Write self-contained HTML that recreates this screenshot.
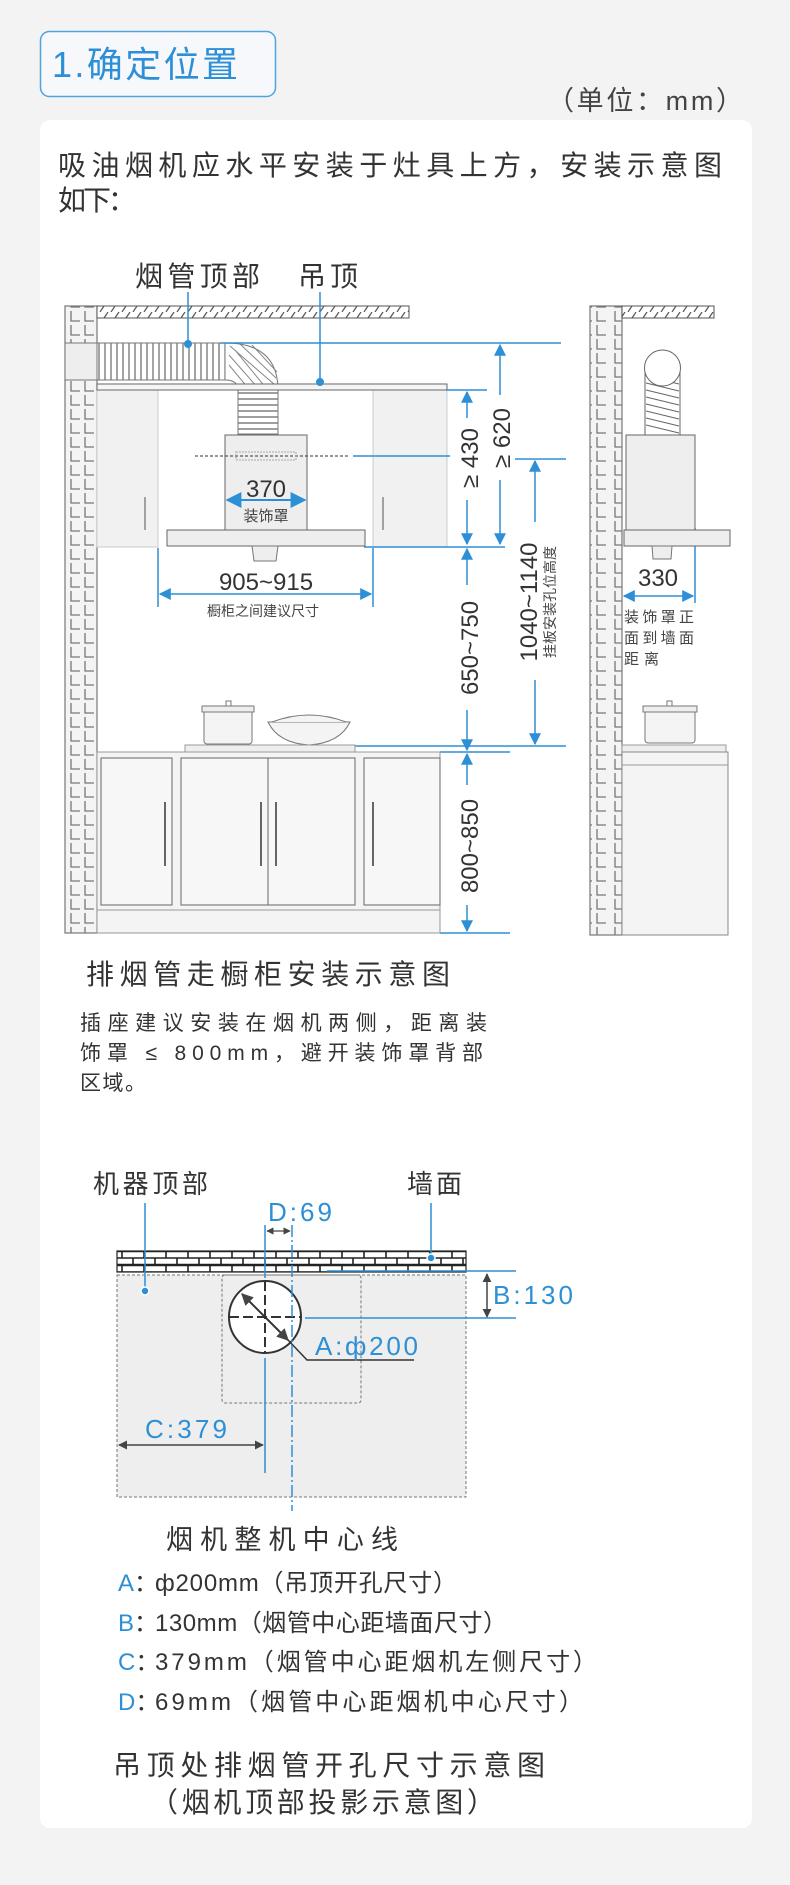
<!DOCTYPE html>
<html><head><meta charset="utf-8"><style>
html,body{margin:0;padding:0;background:#f3f3f4;}
svg{display:block;}
text{font-family:"Liberation Sans","Noto Sans CJK SC",sans-serif;}
</style></head><body>
<svg width="790" height="1885" viewBox="0 0 790 1885" xmlns="http://www.w3.org/2000/svg">
<defs>
<pattern id="brick" x="65" y="0" width="32" height="28" patternUnits="userSpaceOnUse">
<rect width="32" height="28" fill="#f4f4f4"/>
<path d="M6 3 V13 H15 M20 3 V13 H29 M6 17 V27 H15 M20 17 V27 H29" stroke="#777" stroke-width="1.3" fill="none"/>
</pattern>
<pattern id="hatch" width="11" height="12" patternUnits="userSpaceOnUse">
<rect width="11" height="12" fill="#fff"/><path d="M1 12 L9 0" stroke="#555" stroke-width="1.2"/>
</pattern>
<pattern id="rib" width="6" height="40" patternUnits="userSpaceOnUse">
<rect width="6" height="40" fill="#fff"/><path d="M3 0 V40" stroke="#666" stroke-width="1.2"/>
</pattern>
<pattern id="ribh" width="40" height="6" patternUnits="userSpaceOnUse">
<rect width="40" height="6" fill="#fff"/><path d="M0 3 H40" stroke="#666" stroke-width="1.2"/>
</pattern>
<pattern id="wallb" width="22" height="14" patternUnits="userSpaceOnUse" x="117" y="1251">
<rect width="22" height="14" fill="#fff"/><path d="M0 0.5H22 M0 7H22 M0 13.5H22 M5 0V7 M16 7V14" stroke="#222" stroke-width="1.6"/>
</pattern>
<marker id="ab" viewBox="0 0 10 10" refX="9" refY="5" markerWidth="8" markerHeight="8" orient="auto-start-reverse"><path d="M0 0L10 5L0 10z" fill="#2d8fd5"/></marker>
<marker id="ak" viewBox="0 0 10 10" refX="9" refY="5" markerWidth="6" markerHeight="6" orient="auto-start-reverse"><path d="M0 0L10 5L0 10z" fill="#444"/></marker>
</defs>

<rect x="40.5" y="31.5" width="235" height="65" rx="9" fill="#f6f8fb" stroke="#4fa3e0" stroke-width="1.5"/>
<text x="52" y="77" font-size="36" fill="#2d8fd5" textLength="186">1.确定位置</text>
<text x="547" y="110" font-size="27" fill="#444" textLength="196">（单位：mm）</text>

<rect x="40" y="120" width="712" height="1708" rx="10" fill="#fff"/>
<text x="58" y="175" font-size="28" fill="#333" textLength="664">吸油烟机应水平安装于灶具上方，安装示意图</text>
<text x="58" y="210" font-size="28" fill="#333" textLength="78">如下：</text>

<text x="135" y="286" font-size="28" fill="#333" textLength="125">烟管顶部</text>
<text x="298" y="286" font-size="28" fill="#333" textLength="60">吊顶</text>

<rect x="65" y="306" width="32" height="627" fill="url(#brick)" stroke="#777" stroke-width="1.2"/>
<rect x="65" y="343" width="32" height="37" fill="#eee" stroke="#777"/>
<rect x="97" y="306" width="312" height="12" fill="url(#hatch)" stroke="#555"/>
<rect x="97" y="390" width="61" height="157" fill="#f1f1f1" stroke="#ccc"/>
<rect x="373" y="390" width="74" height="157" fill="#f1f1f1" stroke="#ccc"/>
<line x1="145" y1="497" x2="145" y2="530" stroke="#888" stroke-width="1.5"/>
<line x1="383" y1="497" x2="383" y2="530" stroke="#888" stroke-width="1.5"/>
<rect x="97" y="343" width="130" height="37" fill="url(#rib)" stroke="#777"/>
<path d="M225 343 Q278 343 278 390 L278 434 L238 434 L238 390 Q238 380 225 380 Z" fill="#fff" stroke="#777"/>
<rect x="238" y="390" width="40" height="44" fill="url(#ribh)" stroke="#777"/>
<path d="M230 346 L275 385 M240 344 L276 378 M252 345 L277 372 M235 350 L266 388 M229 355 L258 388 M229 365 L248 388" stroke="#888" stroke-width="1"/>
<rect x="97" y="384" width="350" height="6" fill="#f5f5f5" stroke="#666"/>
<rect x="225" y="435" width="82" height="95" fill="#eee" stroke="#666"/>
<line x1="195" y1="456" x2="350" y2="456" stroke="#333" stroke-dasharray="3,2"/>
<rect x="236" y="452" width="60" height="8" fill="none" stroke="#aaa" stroke-dasharray="2,1"/>
<rect x="167" y="530" width="198" height="16" fill="#eee" stroke="#666"/>
<path d="M252 546 L278 546 L276 561 L254 561 Z" fill="#eee" stroke="#777"/>
<text x="266" y="497" font-size="24" fill="#333" text-anchor="middle">370</text>
<line x1="227" y1="500" x2="305" y2="500" stroke="#2d8fd5" stroke-width="2" marker-start="url(#ab)" marker-end="url(#ab)"/>
<text x="266" y="521" font-size="15" fill="#444" text-anchor="middle">装饰罩</text>
<line x1="188" y1="292" x2="188" y2="344" stroke="#2d8fd5" stroke-width="1.5"/><circle cx="188" cy="344" r="4" fill="#2d8fd5"/>
<line x1="320" y1="292" x2="320" y2="382" stroke="#2d8fd5" stroke-width="1.5"/><circle cx="320" cy="382" r="4" fill="#2d8fd5"/>
<g stroke="#2d8fd5" stroke-width="1.5" fill="none">
<line x1="220" y1="343" x2="561" y2="343"/>
<line x1="446" y1="390" x2="487" y2="390"/>
<line x1="353" y1="456" x2="450" y2="456"/>
<line x1="515" y1="459" x2="566" y2="459"/>
<line x1="364" y1="547" x2="505" y2="547"/>
<line x1="355" y1="746" x2="566" y2="746"/>
<line x1="440" y1="752" x2="510" y2="752"/>
<line x1="440" y1="933" x2="510" y2="933"/>
<line x1="158" y1="548" x2="158" y2="607"/>
<line x1="373" y1="548" x2="373" y2="607"/>
<line x1="500" y1="345" x2="500" y2="395" marker-start="url(#ab)"/>
<line x1="500" y1="480" x2="500" y2="544" marker-end="url(#ab)"/>
<line x1="467" y1="392" x2="467" y2="418" marker-start="url(#ab)"/>
<line x1="467" y1="500" x2="467" y2="544" marker-end="url(#ab)"/>
<line x1="467" y1="549" x2="467" y2="585" marker-start="url(#ab)"/>
<line x1="467" y1="710" x2="467" y2="750" marker-end="url(#ab)"/>
<line x1="467" y1="754" x2="467" y2="785" marker-start="url(#ab)"/>
<line x1="467" y1="905" x2="467" y2="931" marker-end="url(#ab)"/>
<line x1="535" y1="461" x2="535" y2="522" marker-start="url(#ab)"/>
<line x1="535" y1="680" x2="535" y2="744" marker-end="url(#ab)"/>
<line x1="160" y1="594" x2="371" y2="594" marker-start="url(#ab)" marker-end="url(#ab)"/>
<line x1="695" y1="528" x2="695" y2="603"/>
<line x1="624" y1="596" x2="693" y2="596" marker-start="url(#ab)" marker-end="url(#ab)"/>
</g>
<g fill="#333" font-size="24">
<text transform="translate(478,458) rotate(-90)" text-anchor="middle">≥ 430</text>
<text transform="translate(510,438) rotate(-90)" text-anchor="middle">≥ 620</text>
<text transform="translate(478,648) rotate(-90)" text-anchor="middle">650~750</text>
<text transform="translate(478,846) rotate(-90)" text-anchor="middle">800~850</text>
<text transform="translate(537,602) rotate(-90)" text-anchor="middle">1040~1140</text>
</g>
<text transform="translate(555,602) rotate(-90)" text-anchor="middle" font-size="14" fill="#444">挂板安装孔位高度</text>
<text x="266" y="590" font-size="24" fill="#333" text-anchor="middle">905~915</text>
<text x="263" y="616" font-size="14" fill="#444" text-anchor="middle">橱柜之间建议尺寸</text>
<rect x="204" y="710" width="48" height="34" rx="3" fill="#f4f4f4" stroke="#777"/>
<rect x="202" y="706" width="52" height="6" fill="#eee" stroke="#777"/>
<rect x="226" y="701" width="5" height="5" fill="#fff" stroke="#777"/>
<path d="M268 722 L350 722 Q340 743 309 745 Q278 743 268 722 Z" fill="#f4f4f4" stroke="#777"/>
<path d="M272 722 Q309 708 346 722" fill="#f4f4f4" stroke="#777"/>
<rect x="185" y="745" width="170" height="7" fill="#eee" stroke="#999"/>
<rect x="97" y="752" width="343" height="181" fill="#f4f4f4" stroke="#999"/>
<rect x="101" y="758" width="71" height="147" fill="#f7f7f7" stroke="#666"/>
<rect x="181" y="758" width="87" height="147" fill="#f7f7f7" stroke="#666"/>
<rect x="268" y="758" width="87" height="147" fill="#f7f7f7" stroke="#666"/>
<rect x="364" y="758" width="76" height="147" fill="#f7f7f7" stroke="#666"/>
<line x1="97" y1="910" x2="440" y2="910" stroke="#999"/>
<g stroke="#666" stroke-width="2"><line x1="165" y1="802" x2="165" y2="866"/><line x1="261" y1="802" x2="261" y2="866"/><line x1="276" y1="802" x2="276" y2="866"/><line x1="373" y1="802" x2="373" y2="866"/></g>

<rect x="590" y="306" width="32" height="629" fill="url(#brick)" stroke="#777" stroke-width="1.2"/>
<rect x="622" y="306" width="92" height="12" fill="url(#hatch)" stroke="#555"/>
<rect x="645" y="368" width="35" height="67" fill="#fff" stroke="#666"/>
<g stroke="#666" stroke-width="1"><line x1="646" y1="383" x2="679" y2="391"/><line x1="646" y1="390" x2="679" y2="398"/><line x1="646" y1="397" x2="679" y2="405"/><line x1="646" y1="404" x2="679" y2="412"/><line x1="646" y1="411" x2="679" y2="419"/><line x1="646" y1="418" x2="679" y2="426"/><line x1="646" y1="425" x2="679" y2="433"/><line x1="646" y1="376" x2="679" y2="384"/></g>
<ellipse cx="662.5" cy="368" rx="18" ry="18" fill="#fff" stroke="#666"/>
<rect x="626" y="435" width="69" height="95" fill="#eee" stroke="#666"/>
<rect x="624" y="530" width="106" height="16" fill="#eee" stroke="#666"/>
<path d="M652 546 L672 546 L671 559 L653 559 Z" fill="#eee" stroke="#777"/>
<text x="658" y="586" font-size="24" fill="#333" text-anchor="middle">330</text>
<text x="624" y="622" font-size="15" fill="#444" textLength="70">装饰罩正</text>
<text x="624" y="643" font-size="15" fill="#444" textLength="70">面到墙面</text>
<text x="624" y="664" font-size="15" fill="#444" textLength="35">距离</text>
<rect x="645" y="710" width="50" height="33" rx="3" fill="#f4f4f4" stroke="#777"/>
<rect x="643" y="706" width="54" height="6" fill="#eee" stroke="#777"/>
<rect x="667" y="701" width="5" height="5" fill="#fff" stroke="#777"/>
<rect x="622" y="745" width="104" height="7" fill="#eee" stroke="#999"/>
<rect x="622" y="752" width="106" height="183" fill="#f4f4f4" stroke="#888"/>
<line x1="622" y1="765" x2="728" y2="765" stroke="#999"/>

<text x="86" y="984" font-size="28" fill="#333" textLength="364">排烟管走橱柜安装示意图</text>
<text x="80" y="1030" font-size="21" fill="#333" textLength="407">插座建议安装在烟机两侧，距离装</text>
<text x="80" y="1060" font-size="21" fill="#333" textLength="403">饰罩 ≤ 800mm，避开装饰罩背部</text>
<text x="80" y="1090" font-size="21" fill="#333" textLength="66">区域。</text>

<text x="93" y="1193" font-size="26" fill="#333" textLength="115">机器顶部</text>
<text x="407" y="1193" font-size="26" fill="#333" textLength="55">墙面</text>
<text x="268" y="1221" font-size="26" fill="#2d8fd5" textLength="64">D:69</text>
<rect x="117" y="1251" width="349" height="21" fill="url(#wallb)" stroke="#222" stroke-width="1.2"/>
<rect x="117" y="1275" width="349" height="222" fill="#eee" stroke="#777" stroke-dasharray="3,2"/>
<rect x="222" y="1275" width="139" height="128" rx="3" fill="none" stroke="#777" stroke-dasharray="3,2"/>
<circle cx="265" cy="1317" r="36" fill="#fff" stroke="#333" stroke-width="2"/>
<g stroke="#333" stroke-width="2" stroke-dasharray="10,4"><line x1="229" y1="1317" x2="301" y2="1317"/><line x1="265" y1="1281" x2="265" y2="1353"/></g>
<line x1="242" y1="1294" x2="288" y2="1340" stroke="#333" stroke-width="2" marker-start="url(#ak)" marker-end="url(#ak)"/>
<polyline points="288,1340 307,1360 414,1360" fill="none" stroke="#333" stroke-width="1.5"/>
<text x="315" y="1355" font-size="26" fill="#2d8fd5" textLength="103">A:ф200</text>
<g stroke="#2d8fd5" stroke-width="1.5">
<line x1="265" y1="1225" x2="265" y2="1278"/>
<line x1="265" y1="1358" x2="265" y2="1473"/>
<line x1="292" y1="1225" x2="292" y2="1511" stroke-dasharray="12,3,2,3"/>
<line x1="327" y1="1271" x2="516" y2="1271"/>
<line x1="305" y1="1318" x2="516" y2="1318"/>
<line x1="145" y1="1203" x2="145" y2="1291"/>
<line x1="431" y1="1203" x2="431" y2="1258"/>
</g>
<circle cx="145" cy="1291" r="4" fill="#2d8fd5" stroke="#fff" stroke-width="1.5"/>
<circle cx="431" cy="1258" r="4" fill="#2d8fd5" stroke="#fff" stroke-width="1.5"/>
<line x1="267" y1="1231" x2="290" y2="1231" stroke="#444" stroke-width="1.2" marker-start="url(#ak)" marker-end="url(#ak)"/>
<line x1="487" y1="1274" x2="487" y2="1317" stroke="#444" stroke-width="1.5" marker-start="url(#ak)" marker-end="url(#ak)"/>
<text x="493" y="1304" font-size="26" fill="#2d8fd5" textLength="80">B:130</text>
<text x="145" y="1438" font-size="26" fill="#2d8fd5" textLength="82">C:379</text>
<line x1="119" y1="1445" x2="263" y2="1445" stroke="#444" stroke-width="1.5" marker-start="url(#ak)" marker-end="url(#ak)"/>

<text x="166" y="1549" font-size="27" fill="#333" textLength="232">烟机整机中心线</text>
<g font-size="24" fill="#333">
<text x="118" y="1591"><tspan fill="#2d8fd5">A</tspan>：</text><text x="155" y="1591" textLength="302">ф200mm（吊顶开孔尺寸）</text>
<text x="118" y="1631"><tspan fill="#2d8fd5">B</tspan>：</text><text x="155" y="1631" textLength="352">130mm（烟管中心距墙面尺寸）</text>
<text x="118" y="1670"><tspan fill="#2d8fd5">C</tspan>：</text><text x="155" y="1670" textLength="442">379mm（烟管中心距烟机左侧尺寸）</text>
<text x="118" y="1710"><tspan fill="#2d8fd5">D</tspan>：</text><text x="155" y="1710" textLength="428">69mm（烟管中心距烟机中心尺寸）</text>
</g>
<text x="113" y="1775" font-size="28" fill="#333" textLength="432">吊顶处排烟管开孔尺寸示意图</text>
<text x="150" y="1812" font-size="28" fill="#333" textLength="345">（烟机顶部投影示意图）</text>
</svg>
</body></html>
